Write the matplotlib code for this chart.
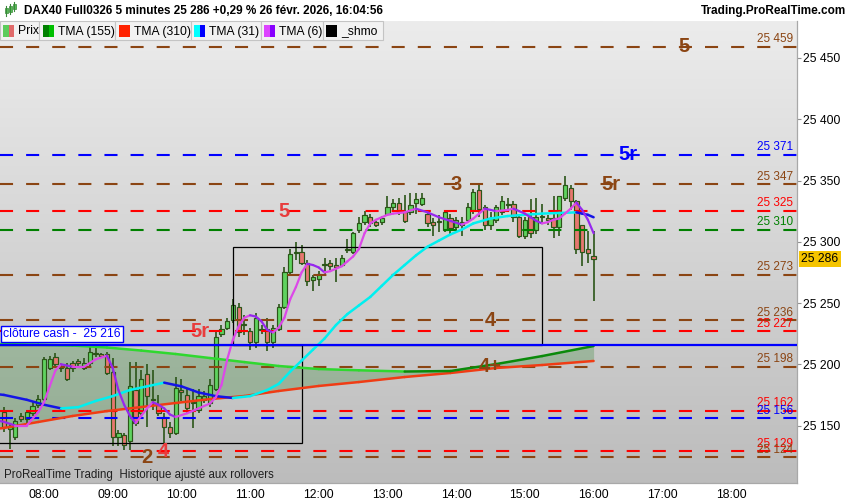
import numpy as np
import matplotlib
matplotlib.use("Agg")
import matplotlib.pyplot as plt
from matplotlib.collections import LineCollection
from matplotlib.patches import Rectangle
from matplotlib import transforms

plt.rcParams['font.family'] = ['Liberation Sans', 'DejaVu Sans']
plt.rcParams['lines.scale_dashes'] = False

# ---------------- data ----------------
title = "DAX40 Full0326 5 minutes 25 286 +0,29 % 26 févr. 2026, 16:04:56"
site = "Trading.ProRealTime.com"
footer = "ProRealTime Trading  Historique ajusté aux rollovers"

# 5-minute bars, bar 0 = 07:25, bar 103 = 16:00
opens = [25161,25147,25141,25158,25155,25160,25167,25172,25197,25206,
         25199,25197,25201,25203,25197,25201,25208,25208,25208,25194,
         25141,25142,25137,25179,25160,25192,25172,25167,25157,25149,
         25144,25179,25175,25168,25163,25171,25168,25180,25225,25230,
         25236,25247,25232,25227,25218,25229,25229,25218,25229,25247,
         25275,25291,25292,25283,25269,25270,25281,25283,25281,25281,
         25293,25292,25310,25316,25320,25316,25316,25323,25328,25332,
         25324,25324,25332,25331,25323,25316,25316,25310,25319,25312,
         25314,25318,25326,25342,25328,25314,25318,25324,25330,25331,
         25320,25305,25320,25310,25320,25319,25319,25312,25336,25344,
         25333,25314,25294,25288]
highs = [25165,25152,25156,25160,25163,25170,25175,25206,25207,25209,
         25201,25201,25203,25204,25205,25214,25215,25209,25210,25205,
         25146,25144,25202,25202,25195,25200,25195,25175,25160,25153,
         25190,25188,25180,25180,25180,25178,25188,25226,25232,25238,
         25253,25250,25240,25230,25242,25232,25238,25232,25249,25279,
         25294,25300,25297,25285,25273,25276,25287,25285,25287,25289,
         25302,25308,25320,25325,25323,25317,25321,25337,25335,25336,
         25338,25340,25340,25340,25326,25319,25322,25326,25323,25320,
         25320,25332,25343,25346,25330,25324,25330,25337,25336,25333,
         25322,25320,25335,25336,25331,25322,25337,25337,25354,25346,
         25334,25314,25309,25309]
lows = [25145,25131,25138,25153,25152,25158,25164,25170,25195,25198,
        25194,25186,25194,25199,25195,25199,25206,25205,25191,25133,
        25133,25130,25130,25150,25158,25149,25163,25158,25136,25140,
        25142,25170,25160,25148,25160,25168,25165,25178,25222,25228,
        25234,25222,25224,25212,25213,25225,25211,25213,25227,25245,
        25272,25285,25281,25264,25260,25264,25274,25277,25267,25279,
        25291,25290,25307,25314,25312,25312,25314,25321,25326,25322,
        25315,25322,25323,25329,25312,25305,25308,25308,25306,25309,
        25305,25316,25323,25320,25310,25310,25315,25322,25326,25316,
        25303,25302,25303,25306,25315,25314,25303,25305,25333,25326,
        25290,25280,25283,25252]
closes = [25149,25150,25154,25155,25161,25166,25172,25204,25204,25200,
          25197,25188,25197,25201,25201,25210,25209,25207,25193,25141,
          25144,25134,25182,25152,25188,25174,25171,25160,25149,25144,
          25181,25177,25164,25169,25174,25174,25183,25222,25229,25235,
          25248,25226,25233,25218,25238,25228,25218,25230,25247,25275,
          25290,25292,25283,25268,25271,25274,25281,25280,25279,25287,
          25294,25307,25315,25322,25315,25314,25319,25328,25332,25325,
          25317,25330,25335,25336,25315,25314,25316,25324,25311,25318,
          25316,25328,25341,25327,25314,25319,25328,25333,25330,25320,
          25305,25318,25307,25320,25321,25318,25312,25337,25346,25333,
          25294,25292,25291,25286]

tma6_k = [-1,0,2,4,6,7,8,9,10,12,14,16,18,19,20,21,22,23,24,25,26,27,28,29,30,
          32,34,36,37,38,39,40,41,42,43,44,45,46,47,48,49,50,51,52,53,54,55,56,57,58,
          59,60,61,62,63,64,65,66,67,68,70,72,74,76,78,80,81,82,83,84,85,86,88,89,90,
          91,92,93,94,95,96,97,98,99,100,101,102,103]
tma6_v = [25154,25153,25150,25150,25161,25169,25182,25195,25200,25198,25198,25204,25207,
          25197,25179,25167,25158,25152,25158,25164,25169,25167,25164,25159,25157,
          25160,25164,25168,25173,25183,25204,25220,25231,25238,25240,25239,25235,25228,
          25226,25230,25238,25253,25263,25275,25282,25281,25279,25275,25276,25278,25280,
          25284,25288,25294,25307,25315,25318,25320,25322,25323,25324,25327,25324,25320,
          25317,25314,25316,25319,25323,25327,25326,25325,25326,25327,25325,25323,25320,
          25317,25315,25316,25318,25319,25323,25327,25332,25326,25318,25307]

tma31_k = [-1,0,4,7,10,13,16,19,22,25,28,31,34,37,40,43,46,48,50,52,54,56,58,60,62,
           64,66,68,70,72,74,76,78,80,82,85,88,91,94,97,100,101,102,103]
tma31_v = [25175.5,25175,25171,25167,25164,25165,25170,25174,25179,25182,25185,25182,
           25177,25174,25172.5,25174,25179,25184,25194,25203,25212,25221,25232,25241,
           25248,25255,25264,25273,25281,25289,25296,25301,25306,25310,25315,25319,
           25321,25322,25323,25323.5,25324,25323,25322,25320]

tma_long_k = [-1,0,6,12,18,24,30,36,42,48,55,62,70,78,86,94,103]
tma155_v = [25216.6,25216.5,25216,25215.3,25213.7,25211.2,25208.4,25205.1,25201.8,
            25198.6,25196.1,25195.1,25194.1,25194.5,25200.2,25206.7,25214.9]
tma310_v = [25147.5,25148,25152.9,25157.8,25161.8,25165.1,25168.4,25171.6,25174.1,
            25178.2,25182.3,25185.5,25189.6,25192.9,25197,25199.4,25202.7]

levels = [25459, 25371, 25347, 25325, 25310, 25273, 25236, 25227, 25198,
          25162, 25156, 25129, 25124]
level_colors = ['brown', 'blue', 'brown', 'red', 'green', 'brown', 'brown', 'red',
                'brown', 'red', 'blue', 'red', 'brown']

cash_close = 25216
last_price = 25286

box_start = [-5, 40]
box_end = [52, 94]
box_low = [25136, 25216]
box_high = [25216, 25296]

wave_labels = ['5', '5r', '5r', '3', '5', '4', '5r', '4+', '2', '4']
wave_k = [118.8, 109, 106, 79, 49, 85, 34.3, 85, 25, 27.8]
wave_level = [25459, 25371, 25347, 25347, 25325, 25236, 25227, 25198, 25124, 25129]
wave_colors = ['brown', 'blue', 'brown', 'brown', 'lred', 'brown', 'lred', 'brown',
               'brown', 'lred']

hour_labels = ['08:00', '09:00', '10:00', '11:00', '12:00', '13:00', '14:00',
               '15:00', '16:00', '17:00', '18:00']
hour_k = [7, 19, 31, 43, 55, 67, 79, 91, 103, 115, 127]
price_ticks = [25150, 25200, 25250, 25300, 25350, 25400, 25450]

legend_names = ['Prix', 'TMA (155)', 'TMA (310)', 'TMA (31)', 'TMA (6)', '_shmo']

# ---------------- style ----------------
PAL = {'brown': '#8b4513', 'blue': '#0000ff', 'red': '#ff0000',
       'green': '#008000', 'lred': '#e83c3c'}
WICK = '#2b5518'
GREEN_BODY = '#5fd35f'
RED_BODY = '#e6776f'

W, H = 850, 500
fig = plt.figure(figsize=(W / 100, H / 100), dpi=100)
fig.patch.set_facecolor('white')
ax_left, ax_right, ax_top, ax_bot = 0, 797, 21, 483
ax = fig.add_axes([ax_left / W, 1 - ax_bot / H, (ax_right - ax_left) / W,
                   (ax_bot - ax_top) / H])

xmin, xmax = -0.681, 138.53
ymin, ymax = 25103.1, 25480.2

# background gradient
grad = np.linspace(0, 1, 256).reshape(-1, 1, 1)
top_c = np.array([236, 236, 236]) / 255
bot_c = np.array([188, 188, 188]) / 255
img = top_c + (bot_c - top_c) * grad
ax.imshow(img, extent=[xmin, xmax, ymin, ymax], aspect='auto', origin='upper',
          zorder=0, interpolation='bilinear')

# fill between long MAs
ax.fill_between(tma_long_k, tma155_v, tma310_v, color='#1a7a1a', alpha=0.25,
                lw=0, zorder=1)

# boxes
for s, e, lo, hi in zip(box_start, box_end, box_low, box_high):
    ax.add_patch(Rectangle((s, lo), e - s, hi - lo, fill=False, ec='black',
                           lw=0.9, zorder=4.1))

# candles
k = np.arange(len(opens))
o = np.array(opens, float); c = np.array(closes, float)
h = np.array(highs, float); l = np.array(lows, float)
up = c >= o
ax.vlines(k, l, h, color=WICK, lw=1.2, zorder=3)
bb = np.minimum(o, c)
bh = np.maximum(np.abs(c - o), 1.0)
ax.bar(k, bh, bottom=bb, width=0.74,
       color=[GREEN_BODY if u else RED_BODY for u in up],
       edgecolor=WICK, linewidth=0.85, zorder=3.5)

# level dashed lines + labels
blend = transforms.blended_transform_factory(ax.transAxes, ax.transData)
for v, cname in zip(levels, level_colors):
    col = PAL[cname]
    ax.axhline(v, color=col, lw=1.5, dashes=(9.4, 9.4), zorder=4.2)
    ax.annotate(f"{v:,}".replace(",", " "), xy=(1, v), xycoords=blend,
                xytext=(-3, 1.2), textcoords='offset points', ha='right',
                va='bottom', color=col, fontsize=8.5, zorder=6)

# cash close line
ax.axhline(cash_close, color='#0000ff', lw=1.6, zorder=5.5)
ax.annotate("clôture cash -  " + f"{cash_close:,}".replace(",", " "),
            xy=(0, cash_close), xycoords=blend, xytext=(2.5, 3.3),
            textcoords='offset points', ha='left', va='bottom', fontsize=8.8,
            color='#0000ff', zorder=7,
            bbox=dict(boxstyle='square,pad=0.18', fc='white', ec='#0000ff', lw=1))


def sloped(xs, ys, cup, cdown, lw, z):
    segs, cols = [], []
    for i in range(len(xs) - 1):
        segs.append([(xs[i], ys[i]), (xs[i + 1], ys[i + 1])])
        cols.append(cup if ys[i + 1] >= ys[i] else cdown)
    lc = LineCollection(segs, colors=cols, linewidths=lw, capstyle='round',
                        joinstyle='round', zorder=z)
    ax.add_collection(lc)


sloped(tma_long_k, tma310_v, '#f03c14', '#f03c14', 1.8, 5)
sloped(tma_long_k, tma155_v, '#0a8a0a', '#2fd82f', 1.8, 5)
sloped(tma31_k, tma31_v, '#00f0f0', '#1414e6', 1.8, 5.1)
sloped(tma6_k, tma6_v, '#dc48e8', '#9628ee', 1.6, 5.2)

# wave labels
for s, kk, lv, cn in zip(wave_labels, wave_k, wave_level, wave_colors):
    ax.text(kk, lv, s, ha='center', va='center', fontsize=14.5, fontweight='bold',
            color=PAL[cn], zorder=8)

# axes
ax.set_xlim(xmin, xmax)
ax.set_ylim(ymin, ymax)
ax.yaxis.tick_right()
ax.set_yticks(price_ticks)
ax.set_yticklabels([f"{p:,}".replace(",", " ") for p in price_ticks])
ax.tick_params(axis='y', length=3, width=0.8, color='#909090', pad=1.5,
               labelsize=8.7)
ax.set_xticks(hour_k)
ax.set_xticklabels(hour_labels)
ax.tick_params(axis='x', length=0, pad=4.5, labelsize=8.7)
for sp in ['left', 'top']:
    ax.spines[sp].set_visible(False)
for sp in ['right', 'bottom']:
    ax.spines[sp].set_color('#a8a8a8')
    ax.spines[sp].set_linewidth(0.9)

# last price tag
ax.annotate(f"{last_price:,}".replace(",", " "), xy=(1, last_price), xycoords=blend,
            xytext=(3.2, 0), textcoords='offset points', ha='left', va='center',
            fontsize=8.7, color='black', annotation_clip=False, zorder=9,
            bbox=dict(boxstyle='square,pad=0.2', fc='#f5c400', ec='none'))


# ---------------- header & legend ----------------
def frect(x0, y0, x1, y1, **kw):
    fig.patches.append(Rectangle((x0 / W, 1 - y1 / H), (x1 - x0) / W, (y1 - y0) / H,
                                 transform=fig.transFigure, **kw))


# small candlestick icon
for cx, b0, b1, w0, w1 in [(6, 8, 13, 6, 16), (10, 6, 12, 4, 14), (14, 4, 9, 2, 11)]:
    fig.lines.append(plt.Line2D([cx / W, cx / W], [1 - w1 / H, 1 - w0 / H],
                                transform=fig.transFigure, color='#3a8a3a', lw=0.8))
    frect(cx - 1.5, b0, cx + 1.5, b1, fc='#55c055', ec='#3a8a3a', lw=0.5)

fig.text(24 / W, 1 - 11 / H, title, fontsize=8.5, fontweight='bold', va='center',
         ha='left')
fig.text(846 / W, 1 - 11 / H, site, fontsize=8.5, fontweight='bold', va='center',
         ha='right')

cells = [0, 39, 115, 191, 261, 323, 383]
sq_x = [3, 43, 119, 194, 264, 326]
sq_cols = [('#5ccc5c', '#e06a6a'), ('#008000', '#00c000'), ('#ff2200', '#ff2200'),
           ('#00ffff', '#0000ff'), ('#dd44ff', '#8800ff'), ('#000000', '#000000')]
for i, name in enumerate(legend_names):
    frect(cells[i], 21, cells[i + 1], 40, fc='#f2f2f2', ec='#c4c4c4', lw=0.8,
          zorder=10)
    x0 = sq_x[i]
    frect(x0, 25, x0 + 5.5, 37, fc=sq_cols[i][0], ec='none', zorder=11)
    frect(x0 + 5.5, 25, x0 + 11, 37, fc=sq_cols[i][1], ec='none', zorder=11)
    fig.text((x0 + 15) / W, 1 - 31.5 / H, name, fontsize=8.7, va='center',
             ha='left', zorder=12)

fig.text(4 / W, 1 - 475 / H, footer, fontsize=8.3, color='#202020', va='center',
         ha='left', zorder=12)

fig.savefig('out.png', dpi=100, facecolor='white')
